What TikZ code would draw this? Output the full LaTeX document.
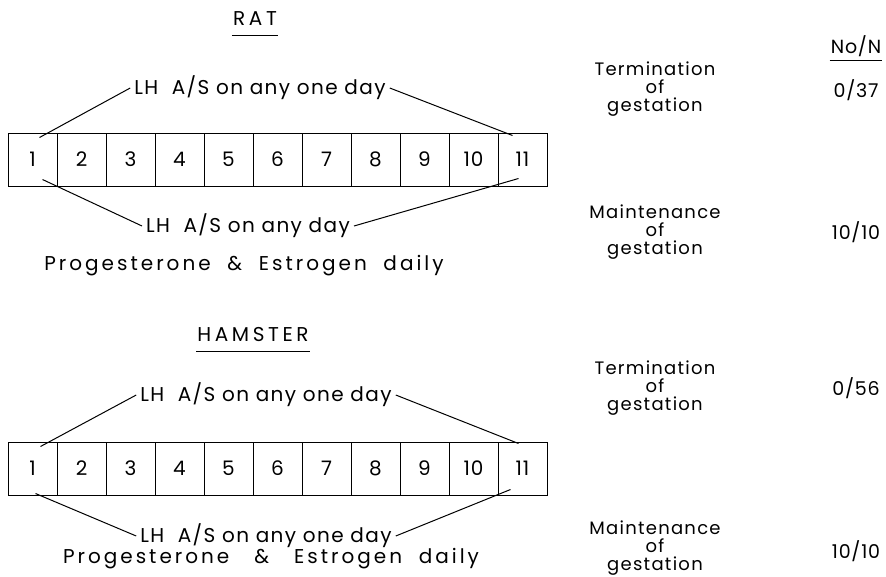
\documentclass[tikz,border=0pt]{standalone}
\usepackage{fontspec}
\setmainfont{Poppins}
\begin{document}
\begin{tikzpicture}[x=1pt,y=-1pt,
  cell/.style={draw,line width=1pt,minimum width=49pt,minimum height=53pt,inner sep=0pt,font=\fontsize{20}{20}\selectfont\addfontfeature{LetterSpace=4}},
  lab/.style={inner sep=4pt,font=\fontsize{20}{20}\selectfont\addfontfeature{LetterSpace=7}},
  prog/.style={inner sep=1pt,font=\fontsize{20}{20}\selectfont\addfontfeature{LetterSpace=15}},
  ttl/.style={inner sep=1pt,font=\fontsize{20}{20}\selectfont\addfontfeature{LetterSpace=18}},
  res/.style={inner sep=1pt,align=center,font=\fontsize{18}{18}\selectfont\addfontfeature{LetterSpace=7}},
  num/.style={inner sep=1pt,font=\fontsize{19}{19}\selectfont\addfontfeature{LetterSpace=4}},
  ln/.style={line width=1pt}]
\useasboundingbox (0,0) rectangle (886,576);
% ---------- RAT ----------
\node[ttl] (ratt) at (255,19) {RAT};
\draw[ln] (ratt.south west) ++(0,8) coordinate (rtu1) -- (ratt.south east |- rtu1) coordinate (rtu2);
\foreach \i in {1,...,11}
  \node[cell] (r\i) at ({32.5+49*(\i-1)},159.5) {\i};
\node[lab] (rup) at (260,88) {LH\ \ A/S on any one day};
\node[lab] (rlo) at (248,226) {LH\ \ A/S on any day};
\draw[ln] (rup.west) -- ([shift={(7pt,-5pt)}]r1.north);
\draw[ln] (rup.east) -- ([shift={(-10pt,-3pt)}]r11.north);
\draw[ln] (rlo.west) -- ([shift={(10pt,7pt)}]r1.south);
\draw[ln] (rlo.east) -- ([shift={(-4pt,8pt)}]r11.south);
\node[prog] (rprog) at (244,266) {Progesterone \ \& \ Estrogen \ daily};
\node[res] (rterm) at (655,89) {Termination\\of\\gestation};
\node[res] (rmain) at (655,232) {Maintenance\\of\\gestation};
\node[num] (nonh) at (856,46) {No/N};
\draw[ln] ([yshift=-3pt]nonh.south west) -- ([yshift=-3pt]nonh.south east);
\node[num] (r037) at (856,90) {0/37};
\node[num] (r1010) at (856,232) {10/10};
% ---------- HAMSTER ----------
\node[ttl] (hamt) at (253,335) {HAMSTER};
\draw[ln] (hamt.south west) ++(0,8) coordinate (htu1) -- (hamt.south east |- htu1) coordinate (htu2);
\foreach \i in {1,...,11}
  \node[cell] (h\i) at ({32.5+49*(\i-1)},468.5) {\i};
\node[lab] (hup) at (266,395) {LH\ \ A/S on any one day};
\node[lab] (hlo) at (266,536) {LH\ \ A/S on any one day};
\draw[ln] (hup.west) -- ([shift={(8pt,-5pt)}]h1.north);
\draw[ln] (hup.east) -- ([shift={(-4pt,-2pt)}]h11.north);
\draw[ln] (hlo.west) -- ([shift={(3pt,2pt)}]h1.south);
\draw[ln] (hlo.east) -- ([shift={(-12pt,6pt)}]h11.south);
\node[prog] (hprog) at (271,559) {Progesterone \ \ \& \ \ Estrogen \ daily};
\node[res] (hterm) at (655,388) {Termination\\of\\gestation};
\node[res] (hmain) at (655,548) {Maintenance\\of\\gestation};
\node[num] (h056) at (856,388) {0/56};
\node[num] (h1010) at (856,551) {10/10};
\end{tikzpicture}
\end{document}
